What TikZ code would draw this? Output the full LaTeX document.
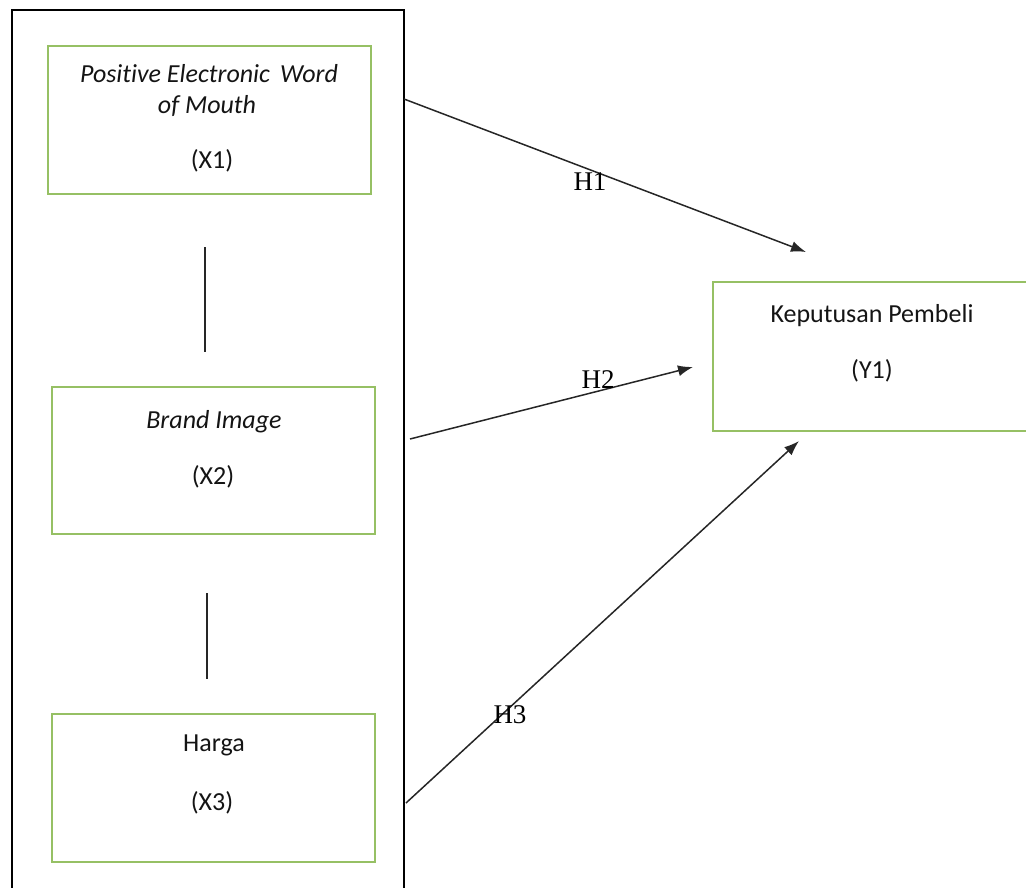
\documentclass[tikz,border=0pt]{standalone}
\usepackage{fontspec}
\setmainfont{Carlito}[Ligatures=NoCommon]
\newfontfamily\hfont{Liberation Serif}
\usetikzlibrary{arrows.meta}
\definecolor{boxgreen}{RGB}{150,192,100}
\definecolor{txt}{RGB}{20,20,20}
\tikzset{
  varbox/.style={draw=boxgreen, line width=1.8pt, inner sep=0pt},
  lbl/.style={font=\fontsize{26}{30}\selectfont, text=txt, inner sep=0pt},
  ilbl/.style={lbl, font=\fontsize{26}{30}\selectfont\itshape},
  hyp/.style={font=\hfont\fontsize{27}{30}\selectfont, text=black, inner sep=0pt},
  link/.style={draw=black!85, line width=1.5pt},
  path arrow/.style={link, -{Latex[length=15pt,width=11pt]}}
}
\begin{document}
\begin{tikzpicture}[x=1pt, y=-1pt]
\useasboundingbox (0,0) rectangle (1026,888);
\clip (0,0) rectangle (1026,888);

% frame around the independent variables
\draw[line width=1.6pt] (12,10) rectangle (404,900);

% variable boxes
\node[varbox, minimum width=323pt, minimum height=148pt] (x1) at (209.5,120) {};
\node[varbox, minimum width=323pt, minimum height=147pt] (x2) at (213.5,460.5) {};
\node[varbox, minimum width=323pt, minimum height=148pt] (x3) at (213.5,788) {};
\node[varbox, minimum width=330pt, minimum height=149pt, anchor=north west] (y1) at (712,281) {};

% box texts
\node[ilbl] (x1a) at (209,74) {Positive Electronic\, Word};
\node[ilbl] (x1b) at (207,106) {of Mouth};
\node[lbl] (x1c) at (212,161) {(X1)};
\node[ilbl] (x2a) at (214,422) {Brand Image};
\node[lbl] (x2c) at (213,477) {(X2)};
\node[lbl] (x3a) at (214,745) {Harga};
\node[lbl] (x3c) at (212,803) {(X3)};
\node[lbl] (y1a) at (872,316) {Keputusan Pembeli};
\node[lbl] (y1c) at (872,371) {(Y1)};

% links between the independent variables
\coordinate (v1t) at (205,247);
\coordinate (v1b) at (205,352);
\coordinate (v2t) at (207,593);
\coordinate (v2b) at (207,679);
\draw[link] (v1t) -- (v1b);
\draw[link] (v2t) -- (v2b);

% hypothesis arrows
\coordinate (s1) at (404,99);
\coordinate (e1) at (806,252);
\coordinate (s2) at (410,439);
\coordinate (e2) at (693,367);
\coordinate (s3) at (406,803);
\coordinate (e3) at (799,441);
\draw[path arrow] (s1) -- (e1);
\draw[path arrow] (s2) -- (e2);
\draw[path arrow] (s3) -- (e3);

\node[hyp] (h1) at (590,182) {H1};
\node[hyp] (h2) at (598,380) {H2};
\node[hyp] (h3) at (510,715) {H3};
\end{tikzpicture}
\end{document}
